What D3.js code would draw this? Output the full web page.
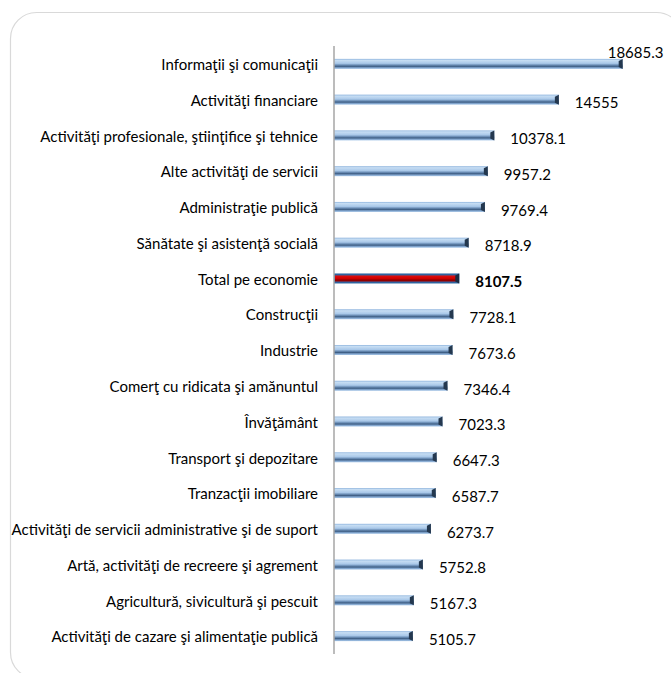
<!DOCTYPE html>
<html>
<head>
<meta charset="utf-8">
<script src="https://cdn.jsdelivr.net/npm/d3@7"></script>
<style>
  html, body { margin: 0; padding: 0; background: #fff; }
  svg { display: block; }
</style>
</head>
<body>
<svg id="chart" width="671" height="673"></svg>
<script>
const categories = [
  "Informaţii şi comunicaţii",
  "Activităţi financiare",
  "Activităţi profesionale, ştiinţifice şi tehnice",
  "Alte activităţi de servicii",
  "Administraţie publică",
  "Sănătate şi asistenţă socială",
  "Total pe economie",
  "Construcţii",
  "Industrie",
  "Comerţ cu ridicata şi amănuntul",
  "Învăţământ",
  "Transport şi depozitare",
  "Tranzacţii imobiliare",
  "Activităţi de servicii administrative şi de suport",
  "Artă, activităţi de recreere şi agrement",
  "Agricultură, sivicultură şi pescuit",
  "Activităţi de cazare şi alimentaţie publică"
];
const values = [18685.3, 14555, 10378.1, 9957.2, 9769.4, 8718.9, 8107.5, 7728.1, 7673.6, 7346.4, 7023.3, 6647.3, 6587.7, 6273.7, 5752.8, 5167.3, 5105.7];
const valueLabels = ["18685.3", "14555", "10378.1", "9957.2", "9769.4", "8718.9", "8107.5", "7728.1", "7673.6", "7346.4", "7023.3", "6647.3", "6587.7", "6273.7", "5752.8", "5167.3", "5105.7"];
const highlight = "Total pe economie";

const data = categories.map((c, i) => ({ cat: c, value: values[i], label: valueLabels[i] }));

const svg = d3.select("#chart");
const defs = svg.append("defs");

const blueGrad = defs.append("linearGradient").attr("id", "blueGrad")
  .attr("x1", 0).attr("y1", 0).attr("x2", 0).attr("y2", 1);
[[0, "#8fb4dd"], [0.15, "#c6ddf3"], [0.45, "#a9c8e9"], [0.62, "#6a8db5"], [0.75, "#3f5f85"], [0.88, "#7fa3cc"], [1, "#a8c7e8"]]
  .forEach(([o, c]) => blueGrad.append("stop").attr("offset", o).attr("stop-color", c));

const redGrad = defs.append("linearGradient").attr("id", "redGrad")
  .attr("x1", 0).attr("y1", 0).attr("x2", 0).attr("y2", 1);
[[0, "#e01010"], [0.5, "#d00000"], [0.8, "#8a0000"], [1, "#b00000"]]
  .forEach(([o, c]) => redGrad.append("stop").attr("offset", o).attr("stop-color", c));

// frame
svg.append("rect")
  .attr("x", 10.5).attr("y", 12.5)
  .attr("width", 672).attr("height", 666)
  .attr("rx", 26).attr("ry", 26)
  .attr("fill", "none").attr("stroke", "#d9d9d9").attr("stroke-width", 1.2);

const x = d3.scaleLinear().domain([0, 20000]).range([334, 643]);
const y = d3.scaleBand().domain(categories).range([46, 654]).paddingInner(0.72).paddingOuter(0.36);

// bars
const bh = y.bandwidth();
const g = svg.append("g");
data.forEach(d => {
  const y0 = y(d.cat);
  const x0 = x(0), x1 = x(d.value);
  if (d.cat === highlight) {
    g.append("rect").attr("x", x0).attr("y", y0).attr("width", x1 - x0).attr("height", bh).attr("fill", "#2e64a0");
    g.append("rect").attr("x", x0 + 1).attr("y", y0 + 2).attr("width", x1 - x0 - 2).attr("height", bh - 4).attr("fill", "url(#redGrad)");
    g.append("polygon")
      .attr("points", `${x1 - 4},${y0 + 2} ${x1},${y0} ${x1},${y0 + bh} ${x1 - 4},${y0 + bh - 2}`)
      .attr("fill", "#1c2a40");
  } else {
    g.append("rect").attr("x", x0).attr("y", y0).attr("width", x1 - x0).attr("height", bh).attr("fill", "url(#blueGrad)");
    g.append("polygon")
      .attr("points", `${x1 - 4},${y0 + 2} ${x1},${y0} ${x1},${y0 + bh} ${x1 - 4},${y0 + bh - 2}`)
      .attr("fill", "#24384f");
  }
});

// axis line
svg.append("line")
  .attr("x1", x(0)).attr("x2", x(0))
  .attr("y1", y.range()[0]).attr("y2", y.range()[1])
  .attr("stroke", "#a6a6a6").attr("stroke-width", 1.5);

// category labels
svg.append("g").selectAll("text").data(data).join("text")
  .attr("x", 318)
  .attr("y", d => y(d.cat) + bh / 2 + 1)
  .attr("dy", "0.35em")
  .attr("text-anchor", "end")
  .attr("font-family", "Lato, 'Open Sans', sans-serif")
  .attr("font-size", 15)
  .attr("fill", "#000")
  .text(d => d.cat);

// value labels
svg.append("g").selectAll("text").data(data).join("text")
  .attr("x", (d, i) => i === 0 ? x(d.value) - 15 : x(d.value) + 16)
  .attr("y", (d, i) => i === 0 ? y(d.cat) + bh / 2 - 11 : y(d.cat) + bh / 2 + 3.5)
  .attr("dy", "0.35em")
  .attr("font-family", "Lato, 'Open Sans', sans-serif")
  .attr("font-size", 15)
  .attr("font-weight", d => d.cat === highlight ? "bold" : "normal")
  .attr("fill", "#000")
  .text(d => d.label);
</script>
</body>
</html>
